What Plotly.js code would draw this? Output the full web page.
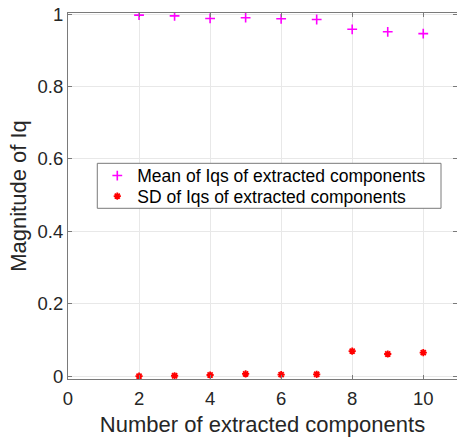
<!DOCTYPE html>
<html>
<head>
<meta charset="utf-8">
<script src="https://cdn.plot.ly/plotly-3.0.1.min.js"></script>
<style>html,body{margin:0;padding:0;background:#fff;}#chart{width:457px;height:439px;}</style>
</head>
<body>
<div id="chart"></div>
<script>
const components = [2, 3, 4, 5, 6, 7, 8, 9, 10];
const meanIq = [0.997, 0.995, 0.988, 0.990, 0.987, 0.985, 0.958, 0.951, 0.946];
const sdIq = [0.000, 0.001, 0.003, 0.006, 0.004, 0.005, 0.069, 0.061, 0.065];
const xTicks = [0, 2, 4, 6, 8, 10];
const yTicks = [0, 0.2, 0.4, 0.6, 0.8, 1];
const yTickLabels = ['0', '0.2', '0.4', '0.6', '0.8', '1'];

const font = 'Liberation Sans, Arial, sans-serif';
const traces = [
  {
    x: components, y: meanIq, type: 'scatter', mode: 'markers',
    name: 'Mean of Iqs of extracted components', legend: 'legend',
    marker: {symbol: 'cross-thin-open', size: 7, color: '#ff00ff', line: {color: '#ff00ff', width: 1.6}}
  },
  {
    x: components, y: sdIq, type: 'scatter', mode: 'markers',
    name: 'SD of Iqs of extracted components', legend: 'legend2',
    marker: {symbol: 'asterisk-open', size: 6, color: '#ff0000', line: {color: '#ff0000', width: 1.8}}
  }
];
const axisCommon = {
  showline: true, mirror: 'ticks', linecolor: '#7a7a7a', linewidth: 1,
  ticks: 'inside', ticklen: 4, tickcolor: '#7a7a7a',
  showgrid: true, gridcolor: '#e8e8e8', gridwidth: 1,
  zeroline: false,
  tickfont: {family: font, size: 18.5, color: '#262626'}
};
const legendCommon = {
  x: 0.0753, xanchor: 'left', yanchor: 'middle',
  bgcolor: 'rgba(0,0,0,0)', borderwidth: 0,
  font: {family: font, size: 17.5, color: '#000'}
};
const layout = {
  width: 457, height: 439,
  margin: {l: 68, r: 0, t: 13, b: 60},
  paper_bgcolor: '#fff', plot_bgcolor: '#fff',
  showlegend: true,
  xaxis: Object.assign({}, axisCommon, {
    range: [0, 10.95], tickvals: xTicks, ticktext: xTicks.map(String),
    ticklabelstandoff: 3,
    title: {text: 'Number of extracted components', font: {family: font, size: 22, color: '#262626'}, standoff: 8}
  }),
  yaxis: Object.assign({}, axisCommon, {
    range: [-0.008, 1.003], tickvals: yTicks, ticktext: yTickLabels,
    title: {text: 'Magnitude of Iq', font: {family: font, size: 22, color: '#262626'}, standoff: 4}
  }),
  legend: Object.assign({}, legendCommon, {y: 0.5555}),
  legend2: Object.assign({}, legendCommon, {y: 0.4992}),
  shapes: [{
    type: 'rect', xref: 'paper', yref: 'paper', layer: 'above',
    x0: 0.0753, x1: 0.9589, y0: 0.4664, y1: 0.5893,
    fillcolor: '#ffffff', line: {color: '#7a7a7a', width: 1}
  }]
};
Plotly.newPlot('chart', traces, layout, {displayModeBar: false, staticPlot: true});
</script>
</body>
</html>
